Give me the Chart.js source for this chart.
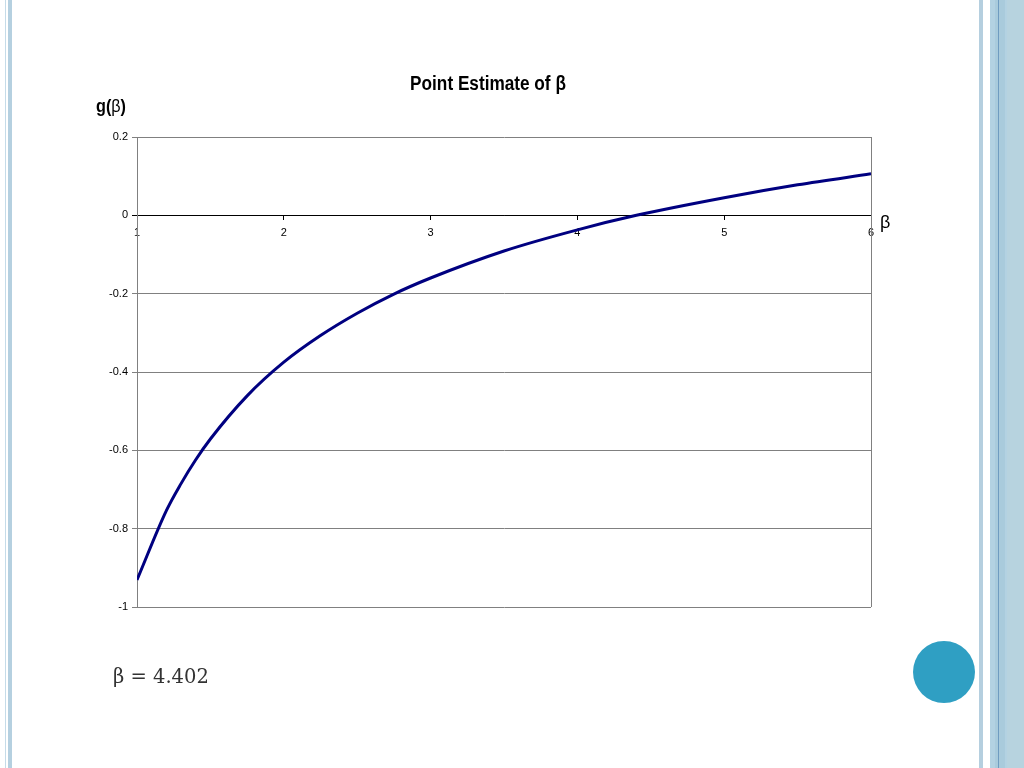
<!DOCTYPE html>
<html>
<head>
<meta charset="utf-8">
<script src="https://cdn.jsdelivr.net/npm/chart.js@4"></script>
<style>
  html, body { margin:0; padding:0; background:#fff; }
  #stage { position:relative; width:1024px; height:768px; overflow:hidden; background:#fff; }
  .deco { position:absolute; top:0; height:768px; }
  #wrap { position:absolute; left:0; top:0; width:976px; height:768px; }
  .txt { position:absolute; white-space:nowrap; color:#000; }
</style>
</head>
<body>
<div id="stage">
  <div class="deco" style="left:5px;width:1px;background:#c5dbe8"></div>
  <div class="deco" style="left:8px;width:4px;background:#b5d0e0"></div>
  <div class="deco" style="left:979px;width:4px;background:#b5cfdf"></div>
  <div class="deco" style="left:990px;width:34px;background:#b3d2e2"></div>
  <div class="deco" style="left:995px;width:10px;background:#a9cbdc"></div>
  <div class="deco" style="left:998px;width:1px;background:#6f9cc0"></div>
  <div class="deco" style="left:1007px;width:17px;background:#b7d3df"></div>
  <div style="position:absolute;left:913px;top:641px;width:62px;height:62px;border-radius:50%;background:#2f9fc3"></div>

  <div id="wrap"><canvas id="c" width="976" height="768"></canvas></div>

  <div id="title" class="txt" style="left:288px;top:72px;width:400px;text-align:center;font:bold 20px 'Liberation Sans',Arial,sans-serif;transform:scaleX(0.86);transform-origin:50% 50%;"></div>
  <div class="txt" style="left:96px;top:96px;font:bold 18px 'Liberation Sans',Arial,sans-serif;transform:scaleX(0.9);transform-origin:0 50%;">g(<span style="font-weight:normal">β</span>)</div>
  <div class="txt" style="left:880px;top:212px;font:18px 'Liberation Sans',Arial,sans-serif;">β</div>
  <div class="txt" style="left:113px;top:665px;font:19.5px 'DejaVu Serif','Liberation Serif',serif;color:#333;">β = 4.402</div>
</div>
<script>
// ---- data ----
const titleText = 'Point Estimate of β';
const betaVals = [1, 1.2, 1.3, 1.4, 1.5, 1.75, 2, 2.25, 2.5, 2.75, 3, 3.5, 4, 4.402, 5, 5.5, 6];
const gVals    = [-0.931, -0.754, -0.685, -0.624, -0.571, -0.461, -0.375, -0.307, -0.250, -0.201, -0.160, -0.091, -0.037, 0, 0.045, 0.078, 0.106];
const xTicks = [1, 2, 3, 4, 5, 6];
const xTickLabels = ['1', '2', '3', '4', '5', '6'];
const yTicks = [0.2, 0, -0.2, -0.4, -0.6, -0.8, -1];
const yTickLabels = ['0.2', '0', '-0.2', '-0.4', '-0.6', '-0.8', '-1'];

document.getElementById('title').textContent = titleText;

const FONT = "'Liberation Sans',Arial,sans-serif";

const borderPlugin = {
  id: 'frame',
  beforeDatasetsDraw(chart) {
    const {ctx, chartArea: a} = chart;
    ctx.save();
    ctx.strokeStyle = '#808080';
    ctx.lineWidth = 1;
    ctx.beginPath();
    ctx.moveTo(Math.round(a.right) + 0.5, a.top);
    ctx.lineTo(Math.round(a.right) + 0.5, a.bottom);
    ctx.stroke();
    ctx.restore();
  }
};

new Chart(document.getElementById('c'), {
  type: 'line',
  data: {
    datasets: [{
      data: betaVals.map((b, i) => ({x: b, y: gVals[i]})),
      borderColor: '#000080',
      borderWidth: 3,
      pointRadius: 0,
      fill: false,
      cubicInterpolationMode: 'monotone'
    }]
  },
  options: {
    responsive: false,
    animation: false,
    devicePixelRatio: 1,
    layout: { padding: { left: 87, right: 105, top: 137, bottom: 161 } },
    plugins: {
      legend: { display: false },
      tooltip: { enabled: false },
      title: { display: false }
    },
    scales: {
      x: {
        type: 'linear',
        min: 1, max: 6,
        position: { y: 0 },
        afterBuildTicks(s) { s.ticks = xTicks.map(v => ({value: v})); },
        ticks: {
          color: '#000',
          font: { family: FONT, size: 11 },
          padding: 7,
          maxRotation: 0,
          callback(v) { const i = xTicks.indexOf(v); return i >= 0 ? xTickLabels[i] : ''; }
        },
        grid: { drawOnChartArea: false, drawTicks: true, tickLength: 4, color: '#000' },
        border: { color: '#000', width: 1 }
      },
      y: {
        type: 'linear',
        min: -1, max: 0.2,
        afterBuildTicks(s) { s.ticks = yTicks.map(v => ({value: v})); },
        afterFit(s) { s.width = 50; },
        ticks: {
          color: '#000',
          font: { family: FONT, size: 11 },
          padding: 4,
          callback(v) {
            const i = yTicks.findIndex(t => Math.abs(t - v) < 1e-9);
            return i >= 0 ? yTickLabels[i] : '';
          }
        },
        grid: {
          color: (c) => (c.tick && Math.abs(c.tick.value) < 1e-9) ? '#000' : '#808080',
          tickLength: 5,
          lineWidth: 1
        },
        border: { color: '#808080', width: 1 }
      }
    }
  },
  plugins: [borderPlugin]
});
</script>
</body>
</html>
